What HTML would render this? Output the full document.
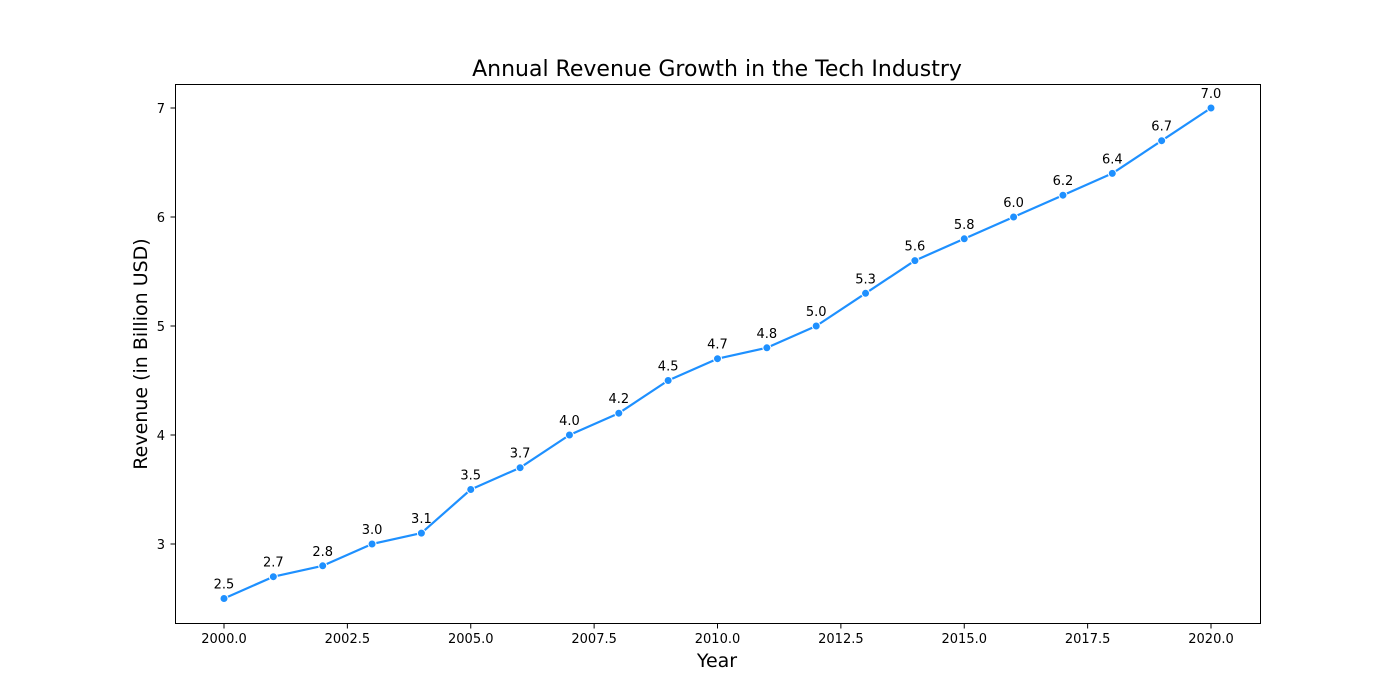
<!DOCTYPE html>
<html><head><meta charset="utf-8"><style>
html,body{margin:0;padding:0;background:#fff;}
svg{display:block;font-family:"DejaVu Sans","Liberation Sans",sans-serif;}
</style></head><body>
<svg id="chart" width="1400" height="700" viewBox="0 0 1400 700">
<rect x="0" y="0" width="1400" height="700" fill="#fff"/>
<text x="717" y="76" font-size="22" text-anchor="middle" fill="#000">Annual Revenue Growth in the Tech Industry</text>
<text x="717" y="667" font-size="19" text-anchor="middle" fill="#000">Year</text>
<text x="0" y="0" font-size="19" text-anchor="middle" fill="#000" transform="translate(147,354) rotate(-90)">Revenue (in Billion USD)</text>
<g id="xticks"></g>
<g id="yticks"></g>
<g id="series"></g>
<rect x="175.5" y="84.5" width="1085" height="539" fill="none" stroke="#000" stroke-width="1"/>
</svg>
<script>
const years = [2000,2001,2002,2003,2004,2005,2006,2007,2008,2009,2010,2011,2012,2013,2014,2015,2016,2017,2018,2019,2020];
const revenue = [2.5,2.7,2.8,3.0,3.1,3.5,3.7,4.0,4.2,4.5,4.7,4.8,5.0,5.3,5.6,5.8,6.0,6.2,6.4,6.7,7.0];
const xTickValues = [2000,2002.5,2005,2007.5,2010,2012.5,2015,2017.5,2020];
const yTickValues = [3,4,5,6,7];

const NS = "http://www.w3.org/2000/svg";
function X(v){ return 224 + (v - 2000) * (1211 - 224) / 20; }
function Y(v){ return 544 - (v - 3) * (544 - 108) / 4; }
function mk(tag, attrs, parent){
  const e = document.createElementNS(NS, tag);
  for (const k in attrs) e.setAttribute(k, attrs[k]);
  parent.appendChild(e);
  return e;
}
const xg = document.getElementById('xticks');
xTickValues.forEach(v => {
  const x = X(v);
  const t = mk('line', {x1:x, x2:x, y1:623.5, y2:628.5, stroke:'#000', 'stroke-width':1}, xg);
  
  
  const l = mk('text', {x:x, y:643, 'font-size':13, 'text-anchor':'middle', fill:'#000'}, xg);
  l.textContent = v.toFixed(1);
  
  
});
const yg = document.getElementById('yticks');
yTickValues.forEach(v => {
  const y = Y(v);
  const t = mk('line', {x1:170.5, x2:175.5, y1:y, y2:y, stroke:'#000', 'stroke-width':1}, yg);
  
  
  const l = mk('text', {x:165, y:y + 5, 'font-size':13, 'text-anchor':'end', fill:'#000'}, yg);
  l.textContent = String(v);
  
  
});
const sg = document.getElementById('series');
const pts = years.map((yr, i) => X(yr) + ',' + Y(revenue[i])).join(' ');
const line = mk('polyline', {points:pts, fill:'none', stroke:'#1e90ff', 'stroke-width':2.2, 'stroke-linejoin':'round'}, sg);


years.forEach((yr, i) => {
  const c = mk('circle', {cx:X(yr), cy:Y(revenue[i]), r:4, fill:'#1e90ff', stroke:'#fff', 'stroke-width':1}, sg);
  
  
  const a = mk('text', {x:X(yr), y:Y(revenue[i]) - 10, 'font-size':13, 'text-anchor':'middle', fill:'#000'}, sg);
  a.textContent = revenue[i].toFixed(1);
  
  
});
</script>
</body></html>
